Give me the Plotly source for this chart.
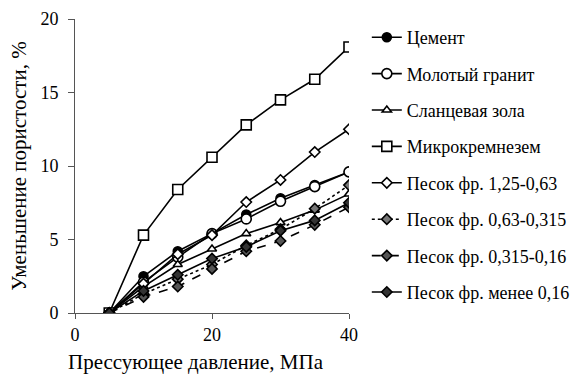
import plotly.graph_objects as go

pressure = [5, 10, 15, 20, 25, 30, 35, 40]

series_names = [
    "Цемент",
    "Молотый гранит",
    "Сланцевая зола",
    "Микрокремнезем",
    "Песок фр. 1,25-0,63",
    "Песок фр. 0,63-0,315",
    "Песок фр. 0,315-0,16",
    "Песок фр. менее 0,16",
]

cement = [0, 2.5, 4.2, 5.4, 6.7, 7.8, 8.7, 9.6]
granite = [0, 2.1, 3.8, 5.4, 6.4, 7.6, 8.6, 9.6]
shale_ash = [0, 1.8, 3.3, 4.35, 5.4, 6.15, 7.0, 8.1]
microsilica = [0, 5.3, 8.4, 10.6, 12.8, 14.5, 15.9, 18.1]
sand_125 = [0, 2.0, 4.0, 5.3, 7.55, 9.05, 10.95, 12.5]
sand_063 = [0, 1.3, 2.3, 3.3, 4.6, 5.7, 7.1, 8.7]
sand_0315 = [0, 1.1, 1.8, 3.0, 4.2, 4.9, 6.0, 7.2]
sand_016 = [0, 1.5, 2.6, 3.7, 4.5, 5.6, 6.3, 7.5]

values = [cement, granite, shale_ash, microsilica, sand_125, sand_063, sand_0315, sand_016]

x_title = "Прессующее давление, МПа"
y_title = "Уменьшение пористости, %"

styles = [
    dict(symbol="circle", size=9, color="black", dash="solid"),
    dict(symbol="circle", size=10, color="white", dash="solid"),
    dict(symbol="triangle-up", size=8, color="white", dash="solid"),
    dict(symbol="square", size=10, color="white", dash="solid"),
    dict(symbol="diamond", size=8, color="white", dash="solid"),
    dict(symbol="diamond", size=8, color="#777777", dash="dot"),
    dict(symbol="diamond", size=8, color="#555555", dash="dash"),
    dict(symbol="diamond", size=8, color="#333333", dash="solid"),
]

fig = go.Figure()
for i, (name, vals, st) in enumerate(zip(series_names, values, styles)):
    fig.add_trace(go.Scatter(
        x=pressure, y=vals, name=name, mode="lines+markers",
        legendgroup=f"g{i}",
        line=dict(color="black", width=1.6, dash=st["dash"]),
        marker=dict(symbol=st["symbol"], size=st["size"], color=st["color"],
                    line=dict(color="black", width=1.6)),
    ))

font_family = "Times New Roman, Liberation Serif, DejaVu Serif, serif"

fig.update_layout(
    width=583, height=381,
    margin=dict(l=75, r=234, t=19, b=68, autoexpand=False),
    paper_bgcolor="white", plot_bgcolor="white",
    font=dict(family=font_family, size=18, color="black"),
    legend=dict(
        x=1.065, y=1.0, xanchor="left", yanchor="top",
        font=dict(family=font_family, size=18, color="black"),
        tracegroupgap=10, traceorder="grouped",
        bgcolor="rgba(0,0,0,0)", maxheight=381,
    ),
    xaxis=dict(
        range=[0, 40], tickvals=[0, 20, 40], showgrid=False, zeroline=False,
        showline=True, linecolor="#555555", linewidth=1,
        ticks="outside", ticklen=5, tickcolor="#555555",
        tickfont=dict(family=font_family, size=18),
    ),
    yaxis=dict(
        range=[0, 20], tickvals=[0, 5, 10, 15, 20], showgrid=False, zeroline=False,
        showline=True, linecolor="#555555", linewidth=1,
        ticks="outside", ticklen=6, tickcolor="#555555",
        ticklabelstandoff=6,
        title=dict(text=y_title, font=dict(family=font_family, size=21), standoff=8),
        tickfont=dict(family=font_family, size=18),
    ),
    annotations=[dict(
        text=x_title, xref="paper", yref="paper", x=0.44, y=-0.167,
        xanchor="center", yanchor="middle", showarrow=False,
        font=dict(family=font_family, size=21, color="black"),
    )],
)

fig.write_html("out.html")
